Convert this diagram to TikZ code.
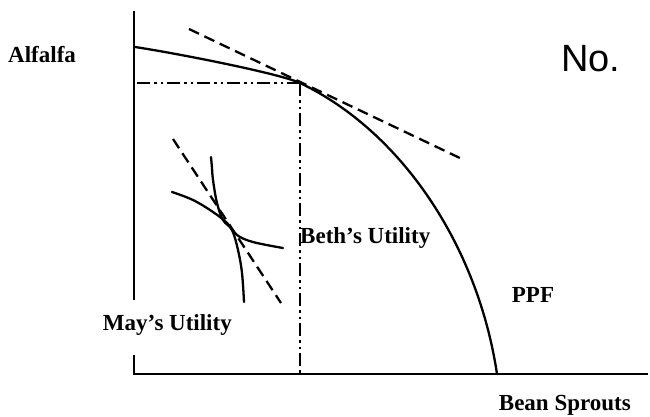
\documentclass[tikz,border=0pt]{standalone}
\usepackage{fontspec}
\setmainfont{Liberation Serif}
\newfontfamily\handfont{Liberation Sans}
\begin{document}
\begin{tikzpicture}[x=1pt,y=-1pt,
  axisline/.style={line width=2.6pt},
  curveline/.style={line width=2.3pt, line join=round, line cap=round},
  tangentline/.style={line width=2.3pt, dash pattern=on 11pt off 6pt},
  guideline/.style={line width=2pt, dash pattern=on 13pt off 4pt on 2.5pt off 4pt on 2.5pt off 4pt},
  lbl/.style={font=\bfseries\fontsize{23}{27}\selectfont, inner sep=0pt}]
\useasboundingbox (0,0) rectangle (650,416);
% axes
\coordinate (ytop) at (134,11);
\coordinate (ybreak1) at (134,300);
\coordinate (ybreak2) at (134,355);
\coordinate (origin) at (134,374);
\coordinate (xend) at (648,374);
\draw[axisline] (ytop) -- (ybreak1);
\draw[axisline] (ybreak2) -- (origin) -- (xend);
% tangency point
\coordinate (T) at (300,83);
\coordinate (yT) at (137,83);
\coordinate (xT) at (300,374);
\draw[guideline] (yT) -- (T);
\draw[guideline] (T) -- (xT);
% PPF
\coordinate (ppfA) at (135,47);
\coordinate (ppfB) at (497,374);
\draw[curveline] (ppfA) .. controls (175,53) and (280,73.5) .. (T)
                 .. controls (400,130.6) and (477.5,244) .. (ppfB);
% tangent (price) line
\coordinate (tl1) at (189,29);
\coordinate (tl2) at (462,159);
\draw[tangentline] (tl1) -- (tl2);
% indifference curves
\coordinate (m1) at (173,139);
\coordinate (m2) at (281,303);
\draw[tangentline] (m1) -- (m2);
\draw[curveline] plot[smooth, tension=0.6] coordinates {(211,157) (212,168) (213,180) (217,203) (223,220) (232,230) (238,250) (242,273) (244,302)};
\draw[curveline] plot[smooth, tension=0.6] coordinates {(172,192) (193,200) (213,212) (227,223) (237,235) (253,242) (283,248)};
% labels
\node[lbl, anchor=west] (alfalfa) at (8,55) {Alfalfa};
\node[lbl, anchor=east] (may) at (232,325) {May’s Utility};
\node[lbl, anchor=west] (beth) at (300,238) {Beth’s Utility};
\node[lbl] (ppf) at (533,295) {PPF};
\node[lbl, anchor=base east] (bean) at (631,410) {Bean Sprouts};
\node[font=\handfont\fontsize{38}{42}\selectfont, inner sep=0pt, anchor=base west] (no) at (561,71) {No.};
\end{tikzpicture}
\end{document}
